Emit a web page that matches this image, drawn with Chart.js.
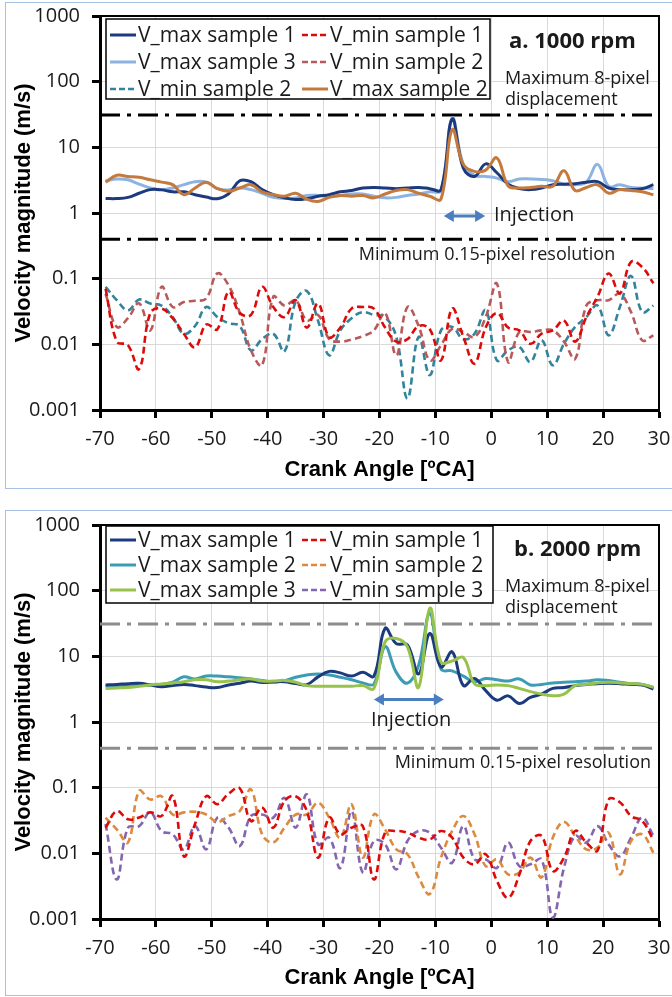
<!DOCTYPE html>
<html><head><meta charset="utf-8">
<script src="https://cdn.jsdelivr.net/npm/chart.js@4.4.1/dist/chart.umd.min.js"></script>
<style>
html,body{margin:0;padding:0;background:#fff;}
body{width:672px;height:997px;position:relative;overflow:hidden;}
.frame{position:absolute;border:1px solid #a8c0e6;box-sizing:border-box;}
#fa{left:5px;top:2px;width:700px;height:487px;}
#fb{left:5px;top:510px;width:700px;height:486px;}
canvas{position:absolute;left:0;}
#ca{top:0;}
#cb{top:505px;}
</style></head>
<body>
<div class="frame" id="fa"></div>
<div class="frame" id="fb"></div>
<canvas id="ca" width="672" height="483"></canvas>
<canvas id="cb" width="672" height="486"></canvas>
<script>
// ---------- DATA ----------
const angles = [-69,-67,-65,-63,-61,-59,-57,-55,-53,-51,-49,-47,-45,-43,-41,-39,-37,-35,-33,-31,-29,-27,-25,-23,-21,-19,-17,-15,-13,-11,-9,-7,-5,-3,-1,1,3,5,7,9,11,13,15,17,19,21,23,25,27,29];
const decades = [0.001,0.01,0.1,1,10,100,1000];
const decadeLabels = ['0.001','0.01','0.1','1','10','100','1000'];
const thresholdX = [-70, 30];
const maxDisplacement = [31, 31];
const minResolution = [0.4, 0.4];

// Panel a: 1000 rpm
const a_vmax1 = [1.66,1.66,1.73,2.0,2.27,2.25,2.1,2.1,1.9,1.75, 1.65,1.95,3.1,3.0,2.27,1.9,1.7,1.6,1.65,1.8, 1.9,2.1,2.2,2.4,2.45,2.4,2.35,2.4,2.45,2.35, 2.27,27,4.8,3.6,5.6,4.1,2.75,2.35,2.27,2.4, 2.7,2.75,2.8,2.95,3.0,2.4,2.27,2.27,2.35,2.7];
const a_vmax3 = [3.1,3.3,3.2,2.75,2.4,2.27,2.4,2.7,3.0,2.95, 2.35,2.25,2.4,2.27,2.0,1.73,1.66,1.7,1.85,1.85, 1.78,1.85,1.95,1.95,1.8,1.7,1.73,1.85,1.95,2.1, 2.2,28,5.4,3.75,3.6,3.4,3.0,3.3,3.3,3.25, 3.1,2.75,2.7,2.95,5.5,2.55,2.7,2.45,2.4,2.35];
const a_vmax2 = [2.95,3.75,3.6,3.5,3.2,2.95,2.7,1.9,2.4,2.95, 2.35,2.14,2.4,2.7,2.1,1.9,1.8,2.0,1.62,1.5, 1.73,1.85,1.8,1.85,1.7,1.95,2.2,2.27,2.0,1.8, 1.63,18.5,5.5,4.3,4.5,6.9,2.6,2.4,2.45,2.55, 2.55,4.4,2.2,2.45,2.7,2.0,2.27,2.2,2.1,1.9];
const a_vmin1 = [0.07,0.011,0.0097,0.0042,0.03,0.035,0.025,0.0145,0.009,0.02, 0.017,0.063,0.03,0.028,0.075,0.037,0.026,0.047,0.018,0.042, 0.0129,0.018,0.035,0.037,0.035,0.018,0.011,0.012,0.019,0.017, 0.0057,0.035,0.013,0.0051,0.018,0.03,0.018,0.0163,0.0102,0.0145, 0.0163,0.023,0.011,0.026,0.053,0.12,0.06,0.18,0.15,0.085];
const a_vmin2r = [0.059,0.0184,0.025,0.042,0.0163,0.075,0.037,0.044,0.046,0.05, 0.12,0.079,0.03,0.0081,0.0048,0.053,0.039,0.047,0.023,0.028, 0.012,0.011,0.0118,0.0133,0.0163,0.03,0.0068,0.037,0.019,0.0057, 0.0097,0.0172,0.0154,0.0129,0.026,0.084,0.0054,0.0154,0.0154,0.0163, 0.0163,0.011,0.006,0.039,0.047,0.047,0.059,0.031,0.0115,0.0137];
const a_vmin2t = [0.075,0.047,0.033,0.048,0.042,0.039,0.026,0.0145,0.019,0.037, 0.026,0.021,0.019,0.0081,0.012,0.0145,0.0078,0.045,0.065,0.023, 0.0068,0.0163,0.025,0.031,0.028,0.026,0.013,0.0015,0.013,0.0034, 0.0163,0.0184,0.012,0.0145,0.033,0.0057,0.0081,0.0091,0.0054,0.0115, 0.0048,0.0102,0.0184,0.026,0.039,0.0137,0.037,0.11,0.031,0.039];

// Panel b: 2000 rpm
const b_vmax1 = [3.67,3.74,3.84,3.9,3.67,3.45,3.58,3.74,3.58,3.4, 3.34,3.67,3.9,4.2,4.0,4.1,4.1,3.84,3.7,4.87, 5.9,5.6,5.0,5.7,5.0,26.6,15.6,15,5.4,22.3, 6.9,11.7,3.6,4.6,3.0,2.15,2.5,1.91,2.37,2.66, 3.25,3.34,3.58,3.74,3.84,3.9,3.84,3.74,3.67,3.18];
const b_vmax2 = [3.58,3.58,3.58,3.6,3.67,3.74,4.03,4.87,4.53,5.0, 5.0,4.87,4.7,4.53,4.3,4.03,4.27,4.8,5.2,5.4, 5.2,4.8,4.4,3.94,3.8,14,5.7,3.9,7.3,45, 6.4,6.0,5.0,4.1,4.6,4.4,4.2,4.53,3.67,3.74, 3.94,4.03,4.1,4.2,4.4,4.27,4.03,3.84,3.74,3.37];
const b_vmax3 = [3.25,3.3,3.35,3.5,3.67,3.8,3.94,4.1,4.4,4.4, 4.1,4.2,4.4,4.53,4.2,4.2,4.3,4.03,3.58,3.5, 3.5,3.5,3.5,3.58,3.25,16.6,18.7,13.9,3.37,54, 8.2,8.5,9.6,3.8,3.58,3.67,3.58,3.25,2.9,2.66, 2.5,2.66,3.58,3.74,3.94,4.03,3.94,3.84,3.74,3.37];
const b_vmin1 = [0.0246,0.044,0.033,0.035,0.042,0.037,0.074,0.009,0.028,0.074, 0.056,0.081,0.098,0.031,0.05,0.0246,0.063,0.074,0.044,0.0086, 0.035,0.0195,0.0246,0.026,0.004,0.0206,0.0219,0.0206,0.0173,0.0163, 0.0219,0.0173,0.0086,0.0068,0.0097,0.0038,0.0021,0.0047,0.0154,0.0184, 0.0054,0.0086,0.0219,0.0146,0.011,0.066,0.06,0.037,0.031,0.016];
const b_vmin2 = [0.035,0.0232,0.0146,0.089,0.066,0.074,0.039,0.042,0.043,0.039, 0.03,0.037,0.044,0.094,0.0195,0.0146,0.0246,0.039,0.039,0.059, 0.035,0.0173,0.056,0.0086,0.039,0.0232,0.0115,0.0097,0.0043,0.0024, 0.0086,0.0219,0.037,0.0195,0.0064,0.0081,0.0048,0.0051,0.0086,0.0043, 0.0173,0.03,0.0183,0.0115,0.0122,0.0206,0.0048,0.0154,0.0195,0.0102];
const b_vmin3 = [0.028,0.004,0.0246,0.026,0.042,0.0219,0.0195,0.0115,0.026,0.0115, 0.035,0.0246,0.0129,0.037,0.039,0.035,0.07,0.0246,0.079,0.0137, 0.0173,0.006,0.044,0.0051,0.0154,0.0137,0.0057,0.0154,0.0219,0.0206, 0.0122,0.0072,0.026,0.0081,0.0081,0.006,0.0146,0.0064,0.0068,0.0081, 0.00105,0.006,0.0184,0.0146,0.026,0.0137,0.009,0.0173,0.035,0.0184];

// ---------- CHART ----------
Chart.defaults.font.family = "'Open Sans', sans-serif";
Chart.defaults.color = '#1a1a1a';
const titleFont = "'Liberation Sans', Arial, sans-serif";

function series(label, values, color, dashed) {
  return { label, data: angles.map((a, i) => ({ x: a, y: values[i] })),
    borderColor: color, borderWidth: dashed ? 2.6 : 3, borderDash: dashed ? [7, 4] : [],
    pointRadius: 0, tension: 0.4, fill: false };
}
function threshold(values, color) {
  return { label: '', data: thresholdX.map((a, i) => ({ x: a, y: values[i] })),
    borderColor: color, borderWidth: 3, borderDash: [20, 7, 4, 7], pointRadius: 0, tension: 0, fill: false };
}

const decorPlugin = {
  id: 'decor',
  afterDraw(chart, args, o) {
    const ctx = chart.ctx, ca = chart.chartArea, xs = chart.scales.x, ys = chart.scales.y;
    ctx.save();
    ctx.strokeStyle = '#000'; ctx.lineWidth = 2;
    ctx.beginPath(); ctx.moveTo(ca.left, ca.top); ctx.lineTo(ca.right, ca.top); ctx.lineTo(ca.right, ca.bottom); ctx.stroke();
    // injection arrow
    const ay = ys.getPixelForValue(o.arrow.at), x1 = xs.getPixelForValue(o.arrow.from), x2 = xs.getPixelForValue(o.arrow.to);
    ctx.strokeStyle = ctx.fillStyle = '#4a7ebf'; ctx.lineWidth = 3;
    ctx.beginPath(); ctx.moveTo(x1 + 6, ay); ctx.lineTo(x2 - 6, ay); ctx.stroke();
    ctx.beginPath(); ctx.moveTo(x1, ay); ctx.lineTo(x1 + 10, ay - 6); ctx.lineTo(x1 + 10, ay + 6); ctx.closePath(); ctx.fill();
    ctx.beginPath(); ctx.moveTo(x2, ay); ctx.lineTo(x2 - 10, ay - 6); ctx.lineTo(x2 - 10, ay + 6); ctx.closePath(); ctx.fill();
    // texts
    ctx.textBaseline = 'middle';
    o.texts.forEach(t => { ctx.font = t.font; ctx.fillStyle = '#1a1a1a'; ctx.textAlign = t.align; ctx.fillText(t.text, t.x, t.y); });
    // legend
    const L = o.legend;
    ctx.fillStyle = '#fff'; ctx.fillRect(L.left, L.top, L.right - L.left, L.bottom - L.top);
    ctx.strokeStyle = '#000'; ctx.lineWidth = 1.5; ctx.strokeRect(L.left, L.top, L.right - L.left, L.bottom - L.top);
    ctx.font = "21px 'Open Sans', sans-serif"; ctx.textAlign = 'left';
    L.items.forEach((idx, k) => {
      const ds = chart.data.datasets[idx];
      const y = L.rows[Math.floor(k / 2)], sx = L.cols[k % 2];
      ctx.strokeStyle = ds.borderColor; ctx.lineWidth = ds.borderWidth;
      ctx.setLineDash(ds.borderDash.length ? [6, 3] : []);
      ctx.beginPath(); ctx.moveTo(sx, y); ctx.lineTo(sx + 26, y); ctx.stroke();
      ctx.setLineDash([]);
      ctx.fillStyle = '#1a1a1a'; ctx.fillText(ds.label, sx + 28, y + 1);
    });
    ctx.restore();
  }
};

function makeChart(id, datasets, top, bottom, height, decor) {
  return new Chart(document.getElementById(id), {
    type: 'line',
    data: { datasets },
    options: {
      responsive: false, animation: false,
      layout: { padding: { top: top, right: 13, left: 0, bottom: 0 } },
      plugins: { legend: { display: false }, tooltip: { enabled: false }, decor },
      scales: {
        x: { type: 'linear', min: -70, max: 30,
          ticks: { stepSize: 10, font: { size: 20 }, color: '#1a1a1a', padding: 9, maxRotation: 0 },
          grid: { color: '#d9d9d9', lineWidth: 1, tickColor: '#000', tickLength: 8, tickWidth: 3 },
          border: { color: '#000', width: 3 },
          title: { display: true, text: 'Crank Angle [ºCA]', font: { family: titleFont, size: 22, weight: 'bold' }, color: '#000', padding: 0 },
          afterFit: s => { s.height = height - bottom; s.paddingLeft = 0; s.paddingRight = 0; } },
        y: { type: 'logarithmic', min: 0.001, max: 1000,
          afterBuildTicks: s => { s.ticks = decades.map(v => ({ value: v })); },
          ticks: { font: { size: 20 }, color: '#1a1a1a', padding: 12, callback: (v, i) => decadeLabels[i] },
          grid: { color: '#d9d9d9', lineWidth: 1, tickColor: '#000', tickLength: 8, tickWidth: 3 },
          border: { color: '#000', width: 3 },
          title: { display: true, text: 'Velocity magnitude (m/s)', font: { family: titleFont, size: 22, weight: 'bold' }, color: '#000', padding: { top: 11, bottom: 0 } },
          afterFit: s => { s.width = 100; s.paddingTop = 0; s.paddingBottom = 0; } }
      }
    },
    plugins: [decorPlugin]
  });
}

const dsA = [
  series('V_max sample 2', a_vmax2, '#c47a3c', false),  // 0
  series('V_max sample 1', a_vmax1, '#1c3a7e', false),  // 1
  series('V_max sample 3', a_vmax3, '#8db3e2', false),  // 2
  series('V_min sample 1', a_vmin1, '#dd0a0a', true),   // 3
  series('V_min sample 2', a_vmin2r, '#b85a5a', true),  // 4
  series('V_min sample 2', a_vmin2t, '#31849b', true),  // 5
  threshold(maxDisplacement, '#000'),
  threshold(minResolution, '#000')
];
makeChart('ca', dsA, 16, 410, 483, {
  arrow: { from: -8.5, to: -1.1, at: 0.9 },
  texts: [
    { text: 'a. 1000 rpm', x: 509, y: 42, align: 'left', font: "bold 22px 'Open Sans', sans-serif" },
    { text: 'Maximum 8-pixel', x: 505, y: 79, align: 'left', font: "18px 'Open Sans', sans-serif" },
    { text: 'displacement', x: 505, y: 100, align: 'left', font: "18px 'Open Sans', sans-serif" },
    { text: 'Injection', x: 494, y: 215, align: 'left', font: "20px 'Open Sans', sans-serif" },
    { text: 'Minimum 0.15-pixel resolution', x: 487, y: 255, align: 'center', font: "18px 'Open Sans', sans-serif" }
  ],
  legend: { left: 106, right: 490, top: 19, bottom: 99, rows: [35, 62, 89], cols: [110, 302], items: [1, 3, 2, 4, 5, 0] }
});

const dsB = [
  series('V_max sample 3', b_vmax3, '#97c24c', false),  // 0
  series('V_max sample 1', b_vmax1, '#1c3a7e', false),  // 1
  series('V_max sample 2', b_vmax2, '#3b9cb3', false),  // 2
  series('V_min sample 1', b_vmin1, '#dd0a0a', true),   // 3
  series('V_min sample 2', b_vmin2, '#dc8a3e', true),   // 4
  series('V_min sample 3', b_vmin3, '#8466b0', true),   // 5
  threshold(maxDisplacement, '#8c8c8c'),
  threshold(minResolution, '#8c8c8c')
];
makeChart('cb', dsB, 20, 414, 486, {
  arrow: { from: -21, to: -8.5, at: 2.2 },
  texts: [
    { text: 'b. 2000 rpm', x: 514, y: 45, align: 'left', font: "bold 22px 'Open Sans', sans-serif" },
    { text: 'Maximum 8-pixel', x: 505, y: 82, align: 'left', font: "18px 'Open Sans', sans-serif" },
    { text: 'displacement', x: 505, y: 103, align: 'left', font: "18px 'Open Sans', sans-serif" },
    { text: 'Injection', x: 371, y: 215, align: 'left', font: "20px 'Open Sans', sans-serif" },
    { text: 'Minimum 0.15-pixel resolution', x: 651, y: 258, align: 'right', font: "18px 'Open Sans', sans-serif" }
  ],
  legend: { left: 106, right: 493, top: 21, bottom: 98, rows: [35, 60, 85], cols: [110, 302], items: [1, 3, 2, 4, 0, 5] }
});
</script>
</body></html>
